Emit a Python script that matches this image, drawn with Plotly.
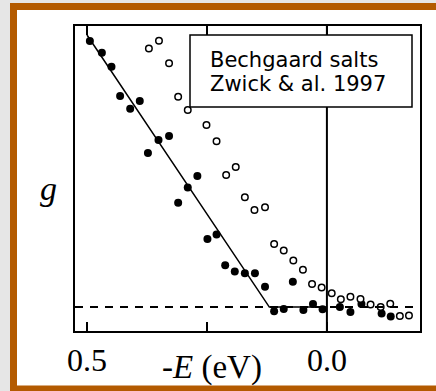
import plotly.graph_objects as go

# -E (eV), g (arb. units)
filled_x = [0.494, 0.469, 0.449, 0.431, 0.410, 0.390, 0.373, 0.351, 0.329, 0.310,
            0.290, 0.270, 0.249, 0.230, 0.212, 0.192, 0.171, 0.150, 0.129, 0.110,
            0.090, 0.071, 0.049, 0.029, 0.009, -0.027, -0.049, -0.072, -0.114, -0.133]
filled_g = [0.978, 0.935, 0.883, 0.776, 0.729, 0.757, 0.566, 0.614, 0.629, 0.383,
            0.439, 0.482, 0.250, 0.267, 0.154, 0.131, 0.124, 0.124, 0.075, -0.015,
            -0.007, 0.093, -0.011, 0.011, -0.008, 0.000, -0.018, 0.011, -0.024, -0.035]

open_x = [0.371, 0.350, 0.329, 0.310, 0.290, 0.251, 0.230, 0.210, 0.190, 0.171,
          0.151, 0.129, 0.110, 0.090, 0.070, 0.050, 0.031, 0.011, -0.010, -0.029,
          -0.049, -0.070, -0.091, -0.112, -0.132, -0.152, -0.171]
open_g = [0.950, 0.979, 0.896, 0.773, 0.724, 0.669, 0.609, 0.485, 0.515, 0.404,
          0.357, 0.367, 0.232, 0.208, 0.171, 0.137, 0.085, 0.072, 0.051, 0.029,
          0.038, 0.030, 0.009, 0.000, 0.012, -0.033, -0.031]

fit_x = [0.5, 0.12, 0.0]
fit_g = [1.0, 0.0, 0.0]

tick_vals = [0.5, 0.25, 0.0]
tick_text = ["0.5", "", "0.0"]

label_lines = ["Bechgaard salts", "Zwick &amp; al. 1997"]

x_range = [0.525, -0.194]
y_range = [-0.088, 1.033]

W, H = 436, 391
L, R, T, B = 75, 420, 26, 331

def px(x):
    return (x - L) / (R - L)

def py(y):
    return (B - y) / (B - T)

fig = go.Figure()
fig.add_trace(go.Scatter(x=fit_x, y=fit_g, mode="lines",
                         line=dict(color="black", width=1.5), hoverinfo="skip"))
fig.add_trace(go.Scatter(x=filled_x, y=filled_g, mode="markers",
                         marker=dict(color="black", size=8, line=dict(width=0))))
fig.add_trace(go.Scatter(x=open_x, y=open_g, mode="markers",
                         marker=dict(color="white", size=6.5,
                                     line=dict(color="black", width=1.5))))

serif = "Liberation Serif, Times New Roman, serif"
gray = "#e6e6e6"
brown = "#b35a00"

def band(x0, x1, y0, y1, color):
    return dict(type="rect", xref="paper", yref="paper", layer="below",
                x0=px(x0), x1=px(x1), y0=py(y0), y1=py(y1),
                line=dict(width=0), fillcolor=color)

shapes = [
    band(0, 10, 0, H, gray),
    band(0, W, 0, 3, gray),
    band(10, 17, 3, H, brown),
    band(10, W, 3, 10, brown),
    band(10, W, 385.5, H, brown),
    # dashed baseline
    dict(type="line", xref="paper", yref="y", x0=0, x1=1, y0=0, y1=0,
         line=dict(color="black", width=2, dash="8px,7px")),
    # zero line
    dict(type="line", xref="x", yref="paper", x0=0, x1=0, y0=0, y1=1,
         line=dict(color="black", width=2)),
    # label box
    dict(type="rect", xref="paper", yref="paper",
         x0=px(190), x1=px(412), y0=py(35), y1=py(107),
         line=dict(color="black", width=1.5), fillcolor="white"),
]

annotations = [
    dict(text=label_lines[0], xref="paper", yref="paper",
         x=px(208), y=py(60), xanchor="left", yanchor="middle", align="left",
         showarrow=False, font=dict(family="DejaVu Sans", size=21, color="black")),
    dict(text=label_lines[1], xref="paper", yref="paper",
         x=px(208), y=py(84), xanchor="left", yanchor="middle", align="left",
         showarrow=False, font=dict(family="DejaVu Sans", size=21, color="black")),
    dict(text="-<i>E</i> (eV)", xref="paper", yref="paper",
         x=px(212), y=py(367), xanchor="center", yanchor="middle",
         showarrow=False, font=dict(family=serif, size=33, color="black")),
    dict(text="<i>g</i>", xref="paper", yref="paper",
         x=px(48), y=py(188), xanchor="center", yanchor="middle",
         showarrow=False, font=dict(family=serif, size=34, color="black")),
]

fig.update_layout(
    width=W, height=H,
    margin=dict(l=L, r=W - R, t=T, b=H - B),
    paper_bgcolor="white",
    plot_bgcolor="white",
    showlegend=False,
    shapes=shapes,
    annotations=annotations,
    xaxis=dict(range=x_range, tickvals=tick_vals, ticktext=tick_text,
               ticks="inside", ticklen=9, tickwidth=2, tickcolor="black",
               showline=True, linewidth=2, linecolor="black", mirror="ticks",
               showgrid=False, zeroline=False,
               tickfont=dict(family=serif, size=32, color="black"),
               ticklabelstandoff=0),
    yaxis=dict(range=y_range, showticklabels=False, ticks="",
               showline=True, linewidth=2, linecolor="black", mirror=True,
               showgrid=False, zeroline=False),
)

fig.write_html("out.html")
